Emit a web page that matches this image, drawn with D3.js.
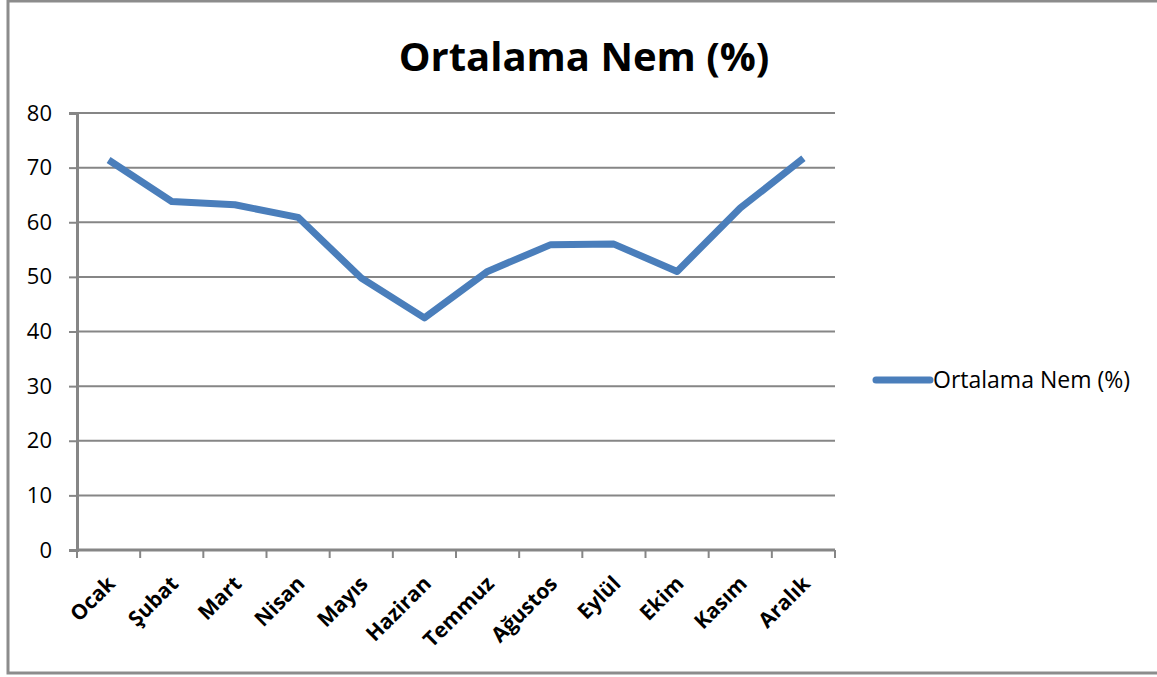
<!DOCTYPE html>
<html>
<head>
<meta charset="utf-8">
<script src="https://cdn.jsdelivr.net/npm/d3@7"></script>
<style>
  body { margin: 0; background: #fff; }
  svg { display: block; }
  .tick text { font-family: "Open Sans", "DejaVu Sans", sans-serif; }
</style>
</head>
<body>
<div id="vis-container"></div>
<script>
// data
const months = ["Ocak", "Şubat", "Mart", "Nisan", "Mayıs", "Haziran", "Temmuz", "Ağustos", "Eylül", "Ekim", "Kasım", "Aralık"];
const humidity = [71.4, 63.8, 63.2, 60.9, 49.8, 42.5, 51.0, 55.9, 56.0, 51.0, 62.6, 71.7];
const yTicks = [0, 10, 20, 30, 40, 50, 60, 70, 80];
const seriesName = "Ortalama Nem (%)";

let width = 1157;
let height = 677;
let margins = { top: 113, right: 322, bottom: 127, left: 77 };
let visWidth = width - margins.left - margins.right;
let visHeight = height - margins.top - margins.bottom;

let svg = d3.select("#vis-container").append("svg").attr("width", width).attr("height", height);

// outer chart frame (right edge falls outside the picture)
svg.append("rect")
    .attr("x", 8).attr("y", 1)
    .attr("width", 1160).attr("height", 672)
    .attr("fill", "none").attr("stroke", "#8c8c8c").attr("stroke-width", 3);

svg.append("text")
    .attr("x", 584).attr("y", 71)
    .attr("text-anchor", "middle")
    .style("font-family", "'Open Sans', sans-serif")
    .style("font-weight", "bold")
    .style("font-size", "40px")
    .style("fill", "#000")
    .text(seriesName);

let viewport = svg.append("g").attr("transform", "translate(" + margins.left + "," + margins.top + ")");

let xScale = d3.scaleBand().domain(months).range([0, visWidth]);
let yScale = d3.scaleLinear().domain([0, 80]).range([visHeight, 0]);

// horizontal gridlines
viewport.append("g").selectAll("line")
    .data(yTicks).enter().append("line")
    .attr("x1", 0).attr("x2", visWidth)
    .attr("y1", d => yScale(d)).attr("y2", d => yScale(d))
    .attr("stroke", "#868686").attr("stroke-width", 2);

// y axis
let yAxis = viewport.append("g")
    .call(d3.axisLeft(yScale).tickValues(yTicks).tickSize(8).tickPadding(17));
yAxis.select(".domain").attr("stroke", "#868686").attr("stroke-width", 3);
yAxis.selectAll(".tick line").attr("stroke", "#868686").attr("stroke-width", 2);
yAxis.selectAll(".tick text").style("font-size", "22px").style("fill", "#000");

// x axis with ticks at band edges
let xAxis = viewport.append("g").attr("transform", "translate(0," + visHeight + ")");
xAxis.append("line").attr("x1", 0).attr("x2", visWidth)
    .attr("stroke", "#868686").attr("stroke-width", 3);
let edges = months.map(m => xScale(m)).concat([visWidth]);
xAxis.selectAll(".edge").data(edges).enter().append("line")
    .attr("class", "edge")
    .attr("x1", d => d).attr("x2", d => d)
    .attr("y1", 0).attr("y2", 8)
    .attr("stroke", "#868686").attr("stroke-width", 2);
xAxis.selectAll(".lbl").data(months).enter().append("text")
    .attr("class", "lbl")
    .attr("transform", d => "translate(" + (xScale(d) + xScale.bandwidth() / 2 + 8) + ",35) rotate(-45)")
    .attr("text-anchor", "end")
    .style("font-family", "'Open Sans', sans-serif")
    .style("font-weight", "bold")
    .style("font-size", "21px")
    .style("fill", "#000")
    .text(d => d);

// the series line
let lineGen = d3.line()
    .x((d, i) => xScale(months[i]) + xScale.bandwidth() / 2)
    .y(d => yScale(d));

viewport.append("path")
    .attr("d", lineGen(humidity))
    .attr("fill", "none")
    .attr("stroke", "#4a7ebb")
    .attr("stroke-width", 7)
    .attr("stroke-linejoin", "round");

// legend
let legend = svg.append("g").attr("transform", "translate(876,380)");
legend.append("line").attr("x1", 0).attr("x2", 54)
    .attr("stroke", "#4a7ebb").attr("stroke-width", 7).attr("stroke-linecap", "round");
legend.append("text").attr("x", 57).attr("y", 0).attr("dy", "0.35em")
    .style("font-family", "'Open Sans', sans-serif")
    .style("font-size", "23px")
    .style("fill", "#000")
    .text(seriesName);
</script>
</body>
</html>
